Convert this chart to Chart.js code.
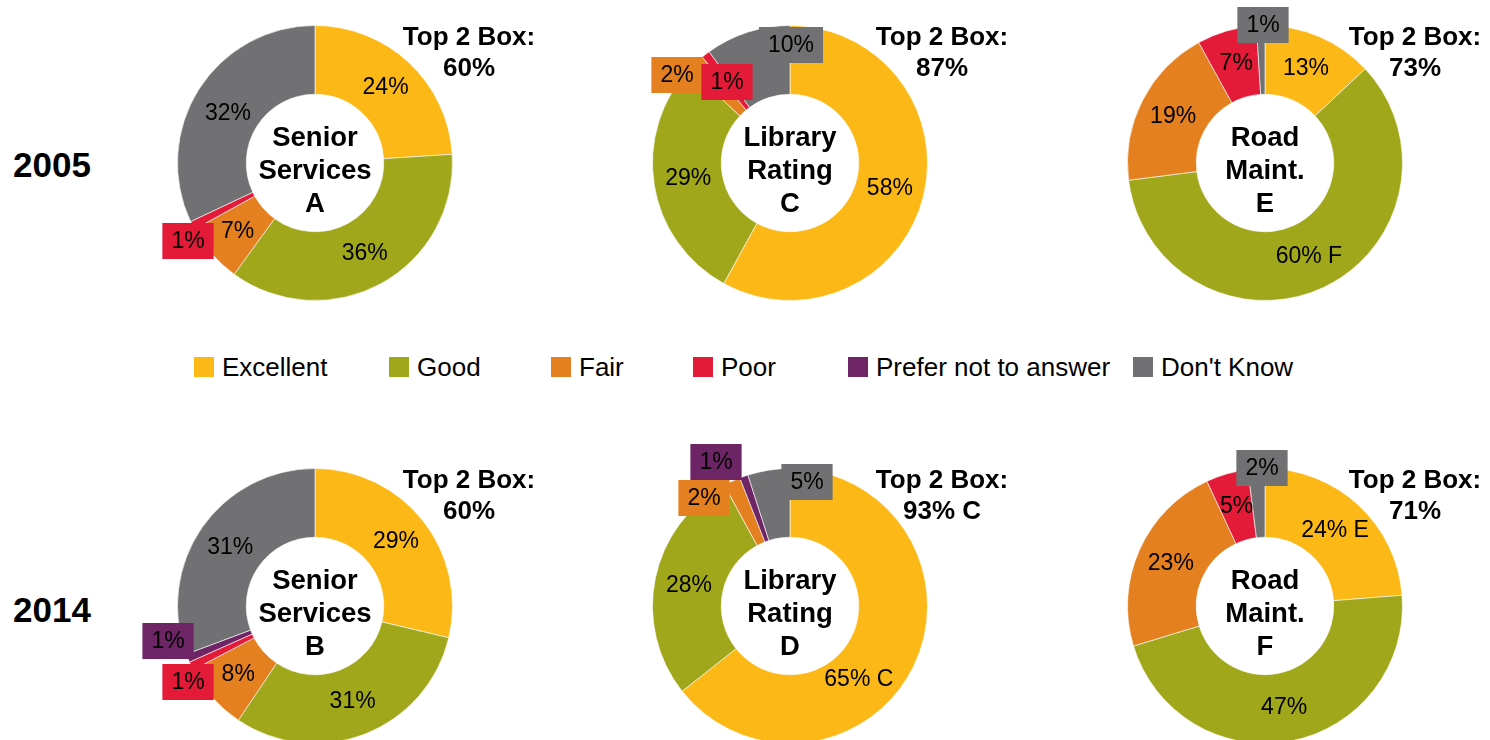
<!DOCTYPE html>
<html>
<head>
<meta charset="utf-8">
<script src="https://cdn.jsdelivr.net/npm/chart.js@4/dist/chart.umd.min.js"></script>
<style>
  html, body { margin: 0; padding: 0; background: #fff; overflow: hidden; width: 1490px; height: 740px;
    font-family: "Liberation Sans", Arial, sans-serif; }
  .panel { position: absolute; width: 460px; height: 340px; }
  .year { position: absolute; left: 13px; font-weight: bold; font-size: 35px; line-height: 35px; }
  .lg { position: absolute; top: 357px; height: 20px; }
  .lg i { position: absolute; left: 0; top: 0; width: 20px; height: 20px; }
  .lg span { position: absolute; left: 28px; top: -3px; font-size: 26px; line-height: 26px; white-space: nowrap; color: #000; }
</style>
</head>
<body>
<div id="root"></div>
<script>
const categories = ["Excellent", "Good", "Fair", "Poor", "Prefer not to answer", "Don't Know"];
const colors = ["#FBB817", "#A1A71B", "#E4801F", "#E31A38", "#6D2566", "#717173"];

// 2005
const seniorA  = [24, 36, 7, 1, 0, 32];
const libraryC = [58, 29, 2, 1, 0, 10];
const roadE    = [13, 60, 19, 7, 0, 1];
// 2014
const seniorB  = [29, 31, 8, 1, 1, 31];
const libraryD = [65, 28, 2, 0, 1, 5];
const roadF    = [24, 47, 23, 5, 0, 2];

const panelValues = [seniorA, libraryC, roadE, seniorB, libraryD, roadF];
const panelTitles = [
  ["Senior", "Services", "A"], ["Library", "Rating", "C"], ["Road", "Maint.", "E"],
  ["Senior", "Services", "B"], ["Library", "Rating", "D"], ["Road", "Maint.", "F"]
];
const top2Box = ["60%", "87%", "73%", "60%", "93% C", "71%"];
const labelTags = [{}, {}, {1: " F"}, {}, {0: " C"}, {0: " E"}];
const years = ["2005", "2014"];

// layout (kept apart from the data)
const centers = [[315, 163], [790, 163], [1265, 163], [315, 606], [790, 606], [1265, 606]];
const top2Dx = [154, 152, 150, 154, 152, 150];
const callouts = [
  {3: [-127, 78]},
  {2: [-113, -88], 3: [-63, -81], 5: [1, -118]},
  {5: [-2, -138]},
  {4: [-147, 35], 3: [-127, 76]},
  {4: [-74, -144], 2: [-86, -108], 5: [17, -124]},
  {5: [-3, -138]}
];
const nudges = [{5: [0, 6]}, {}, {}, {}, {0: [-24, 29]}, {}];
const legendLeft = [194, 389, 551, 693, 848, 1133];
const yearTop = [147, 592];

const FONT = '"Liberation Sans", Arial, sans-serif';

const ringText = {
  id: "ringText",
  afterDatasetsDraw(chart, args, opts) {
    const p = opts.panel;
    const ctx = chart.ctx;
    const arcs = chart.getDatasetMeta(0).data;
    const vals = chart.data.datasets[0].data;
    const cx = arcs[0].x, cy = arcs[0].y;
    ctx.save();
    ctx.textAlign = "center";
    ctx.textBaseline = "middle";
    ctx.font = "23px " + FONT;
    arcs.forEach((arc, i) => {
      const v = vals[i];
      if (!v) return;
      const txt = v + "%" + (labelTags[p][i] || "");
      const c = callouts[p][i];
      if (c) {
        const x = cx + c[0], y = cy + c[1];
        const w = ctx.measureText(txt).width + 18, h = 36;
        ctx.fillStyle = colors[i];
        ctx.fillRect(x - w / 2, y - h / 2, w, h);
        ctx.fillStyle = "#000";
        ctx.fillText(txt, x, y + 1);
      } else {
        const pos = arc.tooltipPosition();
        const n = nudges[p][i] || [0, 0];
        ctx.fillStyle = "#000";
        ctx.fillText(txt, pos.x + n[0], pos.y + n[1]);
      }
    });
    ctx.textBaseline = "alphabetic";
    ctx.fillStyle = "#000";
    ctx.font = "bold 27.5px " + FONT;
    panelTitles[p].forEach((t, k) => ctx.fillText(t, cx, cy - 17 + 33 * k));
    ctx.font = "bold 26px " + FONT;
    ctx.fillText("Top 2 Box:", cx + top2Dx[p], cy - 118);
    ctx.fillText(top2Box[p], cx + top2Dx[p], cy - 87);
    ctx.restore();
  }
};

const root = document.getElementById("root");

years.forEach((y, k) => {
  const d = document.createElement("div");
  d.className = "year";
  d.style.top = yearTop[k] + "px";
  d.textContent = y;
  root.appendChild(d);
});

categories.forEach((c, i) => {
  const d = document.createElement("div");
  d.className = "lg";
  d.style.left = legendLeft[i] + "px";
  d.innerHTML = '<i style="background:' + colors[i] + '"></i><span></span>';
  d.querySelector("span").textContent = c;
  root.appendChild(d);
});

panelValues.forEach((vals, p) => {
  const box = document.createElement("div");
  box.className = "panel";
  box.style.left = (centers[p][0] - 190) + "px";
  box.style.top = (centers[p][1] - 170) + "px";
  const cv = document.createElement("canvas");
  box.appendChild(cv);
  root.appendChild(box);
  new Chart(cv, {
    type: "doughnut",
    data: {
      labels: categories,
      datasets: [{
        data: vals,
        backgroundColor: colors,
        borderColor: "rgba(255,255,255,0.6)",
        borderWidth: 1
      }]
    },
    options: {
      responsive: true,
      maintainAspectRatio: false,
      animation: false,
      events: [],
      cutout: "50%",
      layout: { padding: { left: 52, right: 132, top: 32, bottom: 32 } },
      plugins: {
        legend: { display: false },
        tooltip: { enabled: false },
        ringText: { panel: p }
      }
    },
    plugins: [ringText]
  });
});
</script>
</body>
</html>
